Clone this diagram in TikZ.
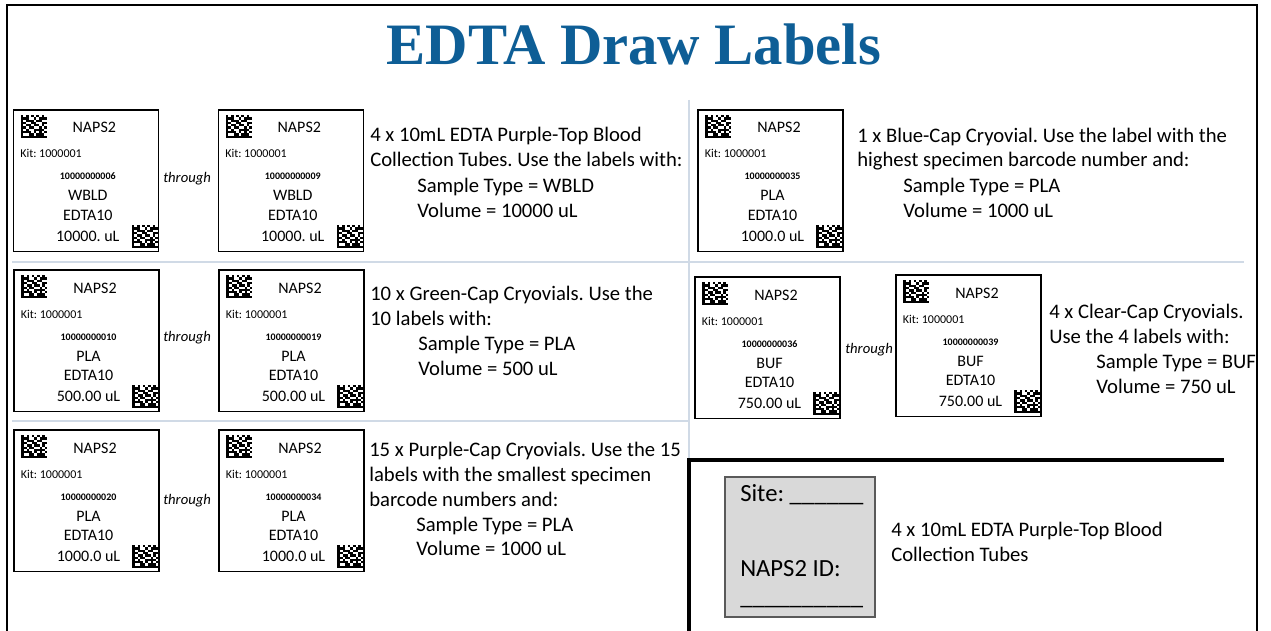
\documentclass[tikz,border=0pt]{standalone}
\usepackage{fontspec}
\setmainfont{Carlito}
\newfontfamily\titlefont{Liberation Serif}
\definecolor{titleblue}{RGB}{14,94,150}
\definecolor{sepline}{RGB}{208,218,230}
\definecolor{boxgray}{RGB}{217,217,217}
\definecolor{boxedge}{RGB}{90,90,90}
\tikzset{
  x=0.75pt, y=-0.75pt,
  lbox/.style={draw=black, line width=0.8pt},
  lt/.style={font=\fontsize{12}{14}\selectfont, anchor=base, inner sep=0pt},
  kit/.style={font=\fontsize{9}{11}\selectfont, anchor=base west, inner sep=0pt},
  bc/.style={font=\bfseries\fontsize{7.5}{9}\selectfont, anchor=base, inner sep=0pt},
  desc/.style={font=\fontsize{15.5}{18}\selectfont, anchor=base west, inner sep=0pt},
  thr/.style={font=\itshape\fontsize{11}{13}\selectfont, anchor=base west, inner sep=0pt},
  big/.style={font=\fontsize{18.5}{22}\selectfont, anchor=base west, inner sep=0pt},
  sep/.style={draw=sepline, line width=0.9pt},
  frame/.style={draw=black, line width=1.7pt},
  bracket/.style={draw=black, line width=2.6pt},
  dm/.pic={
    \foreach \r/\cols in {0/{0,2,4,6,8},1/{0,1,2,5,7,8,9},2/{0,2,3,4,6,7},3/{0,1,4,5,8,9},4/{0,2,3,5,6,8},5/{0,1,3,4,7,9},6/{0,2,5,6,7,8},7/{0,1,2,3,5,7,9},8/{0,3,4,6,7,8},9/{0,1,2,3,4,5,6,7,8,9}}
      {\foreach \c in \cols {\fill[black] (\c*2.6,\r*2.3) rectangle ++(2.6,2.3);}}
  }
}
\newcommand{\naplabel}[6]{%
  \begin{scope}[shift={(#2,#3)}]
    \draw[lbox] (0,0) rectangle (145,141.5);
    \pic at (7.4,5) {dm};
    \pic at (118.4,115) {dm};
    \node[lt] (#1n) at (81,23) {NAPS2};
    \node[kit] (#1k) at (6.7,48) {Kit: 1000001};
    \node[bc] (#1b) at (74.5,70) {#4};
    \node[lt] (#1t) at (74.5,91) {#5};
    \node[lt] (#1e) at (74.5,110.5) {EDTA10};
    \node[lt] (#1v) at (74.5,131) {#6};
  \end{scope}}
\begin{document}
\frenchspacing
\begin{tikzpicture}
\useasboundingbox (0,0) rectangle (1271,631);
\fill[white] (0,0) rectangle (1271,631);
% outer frame
\draw[frame] (7,640) -- (7,5) -- (1257,5) -- (1257,640);
% title
\node[font=\titlefont\bfseries\fontsize{44}{50}\selectfont, text=titleblue, anchor=base, inner sep=0pt] (title) at (634,65) {EDTA Draw Labels};
% separators
\draw[sep] (12,262) -- (1244,262);
\draw[sep] (12,421) -- (689,421);
\draw[sep] (689,100) -- (689,459);
% bracket
\draw[bracket] (1224,460) -- (689,460) -- (689,640);
% labels
\naplabel{a1}{13.3}{110}{10000000006}{WBLD}{10000. uL}
\naplabel{a2}{218.3}{110}{10000000009}{WBLD}{10000. uL}
\naplabel{b1}{14}{270}{10000000010}{PLA}{500.00 uL}
\naplabel{b2}{219}{270}{10000000019}{PLA}{500.00 uL}
\naplabel{c1}{14}{430}{10000000020}{PLA}{1000.0 uL}
\naplabel{c2}{219}{430}{10000000034}{PLA}{1000.0 uL}
\naplabel{d1}{698}{110}{10000000035}{PLA}{1000.0 uL}
\naplabel{e1}{695}{277}{10000000036}{BUF}{750.00 uL}
\naplabel{e2}{896}{275}{10000000039}{BUF}{750.00 uL}
% through
\node[thr] (t1) at (163,183) {through};
\node[thr] (t2) at (163,341) {through};
\node[thr] (t3) at (163,504) {through};
\node[thr] (t4) at (845,353) {through};
% descriptions row 1 left
\node[desc] (d11) at (370,142) {4 x 10mL EDTA Purple-Top Blood};
\node[desc] (d12) at (370,167) {Collection Tubes. Use the labels with:};
\node[desc] (d13) at (417,193) {Sample Type = WBLD};
\node[desc] (d14) at (417,218) {Volume = 10000 uL};
% row 2 left
\node[desc] (d21) at (370,300) {10 x Green-Cap Cryovials. Use the};
\node[desc] (d22) at (370,325) {10 labels with:};
\node[desc] (d23) at (418,350) {Sample Type = PLA};
\node[desc] (d24) at (418,375) {Volume = 500 uL};
% row 3 left
\node[desc] (d31) at (369,456) {15 x Purple-Cap Cryovials. Use the 15};
\node[desc] (d32) at (369,481) {labels with the smallest specimen};
\node[desc] (d33) at (369,506) {barcode numbers and:};
\node[desc] (d34) at (416,531) {Sample Type = PLA};
\node[desc] (d35) at (416,555) {Volume = 1000 uL};
% right row 1
\node[desc] (r11) at (857,143) {1 x Blue-Cap Cryovial. Use the label with the};
\node[desc] (r12) at (857,167) {highest specimen barcode number and:};
\node[desc] (r13) at (903,193) {Sample Type = PLA};
\node[desc] (r14) at (903,218) {Volume = 1000 uL};
% right row 2
\node[desc] (r21) at (1049,318) {4 x Clear-Cap Cryovials.};
\node[desc] (r22) at (1049,343) {Use the 4 labels with:};
\node[desc] (r23) at (1096,368) {Sample Type = BUF};
\node[desc] (r24) at (1096,393) {Volume = 750 uL};
% bottom box
\draw[fill=boxgray, draw=boxedge, line width=0.8pt] (725,477) rectangle (875,617);
\node[big] (site) at (740,501) {Site: \_\_\_\_\_\_};
\node[big] (napsid) at (740,576) {NAPS2 ID:};
\node[big] (blank) at (740,604) {\_\_\_\_\_\_\_\_\_\_};
\node[desc] (b1) at (891,536) {4 x 10mL EDTA Purple-Top Blood};
\node[desc] (b2) at (891,561) {Collection Tubes};
\end{tikzpicture}
\end{document}
